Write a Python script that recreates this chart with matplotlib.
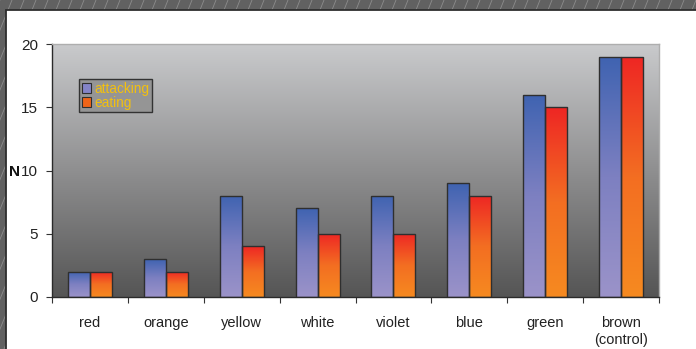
import numpy as np
import matplotlib
matplotlib.use('Agg')
import matplotlib.pyplot as plt
from matplotlib.colors import LinearSegmentedColormap
from matplotlib.patches import Rectangle, Patch
from matplotlib.lines import Line2D
from matplotlib.ticker import FixedLocator

plt.rcParams['font.family'] = ['Liberation Sans', 'DejaVu Sans']

categories = ['red', 'orange', 'yellow', 'white', 'violet', 'blue', 'green',
              'brown\n(control)']
attacking = [2, 3, 8, 7, 8, 9, 16, 19]
eating = [2, 2, 4, 5, 5, 8, 15, 19]
series_names = ['attacking', 'eating']
y_ticks = [0, 5, 10, 15, 20]

W, H = 696, 349
fig = plt.figure(figsize=(W / 100, H / 100), dpi=100)

# slide frame: dark hatched band with a white panel on top
fig.patches.append(Rectangle((0, 0), 1, 1, transform=fig.transFigure,
                             facecolor='#616161', edgecolor='none', zorder=-10))
for x0 in range(-200, W + 20, 12):
    fig.lines.append(Line2D([x0 / W, (x0 + 140) / W], [0, 1],
                            transform=fig.transFigure, color='#8c8c8c',
                            lw=0.6, zorder=-9))
fig.patches.append(Rectangle((5.5 / W, -0.1), 1.2, (H - 10.5) / H + 0.1,
                             transform=fig.transFigure, facecolor='white',
                             edgecolor='#2e2e2e', lw=1.3, zorder=-8))

ax = fig.add_axes([52 / W, (H - 297) / H, 607 / W, 253 / H])

bg_cmap = LinearSegmentedColormap.from_list('bg', ['#555555', '#8f8f90', '#c9cacc'])
blue_cmap = LinearSegmentedColormap.from_list('blue', ['#9b93c9', '#7d80c1', '#3f63b1'])
orange_cmap = LinearSegmentedColormap.from_list('orange', ['#f68a20', '#f36e22', '#ee2624'])

grad = np.linspace(0, 1, 256).reshape(-1, 1)
ax.imshow(grad, extent=[-0.5, 7.5, 0, 20], origin='lower', aspect='auto',
          cmap=bg_cmap, zorder=0)

x = np.arange(len(categories))
w = 0.29
for vals, off, cmap in [(attacking, -w / 2, blue_cmap), (eating, w / 2, orange_cmap)]:
    bars = ax.bar(x + off, vals, width=w, facecolor='none', edgecolor='#2f2f2f',
                  lw=1.0, zorder=3)
    for b in bars:
        bx, bw, bh = b.get_x(), b.get_width(), b.get_height()
        im = ax.imshow(grad, extent=[bx, bx + bw, 0, bh], origin='lower',
                       aspect='auto', cmap=cmap, zorder=2)
        im.set_clip_path(b)

ax.set_xlim(-0.5, 7.5)
ax.set_ylim(0, 20)

ax.set_yticks(y_ticks)
ax.tick_params(axis='y', length=4, width=0.8, color='#333333', pad=6,
               labelsize=11, labelcolor='#222222')
ax.set_xticks(x)
ax.set_xticklabels(categories)
ax.xaxis.set_minor_locator(FixedLocator(np.arange(-0.5, 8, 1)))
ax.tick_params(axis='x', which='major', length=0, pad=14, labelsize=10.5,
               labelcolor='#222222')
ax.tick_params(axis='x', which='minor', length=4, width=0.8, color='#333333')

ax.set_ylabel('N', rotation=0, fontweight='bold', fontsize=11, color='#111111',
              va='center_baseline', ha='center')
ax.yaxis.set_label_coords(-0.062, 0.5)

for side in ['left', 'bottom']:
    ax.spines[side].set_color('#2a2a2a')
    ax.spines[side].set_linewidth(1.0)
for side in ['top', 'right']:
    ax.spines[side].set_color('#aeaeae')
    ax.spines[side].set_linewidth(1.0)

handles = [Patch(facecolor='#8484c8', edgecolor='#2f2f2f', lw=0.8),
           Patch(facecolor='#f06418', edgecolor='#2f2f2f', lw=0.8)]
leg = ax.legend(handles, series_names, loc='upper left',
                bbox_to_anchor=(79 / W, (H - 79) / H),
                bbox_transform=fig.transFigure, fontsize=9.8,
                labelcolor='#f2c010', fancybox=False, framealpha=1,
                facecolor='#959595', edgecolor='#333333',
                handlelength=0.7, handleheight=0.7, handletextpad=0.2,
                borderpad=0.2, labelspacing=0.0, borderaxespad=0)
leg.get_frame().set_linewidth(1.0)

fig.savefig('out.png', dpi=100)
